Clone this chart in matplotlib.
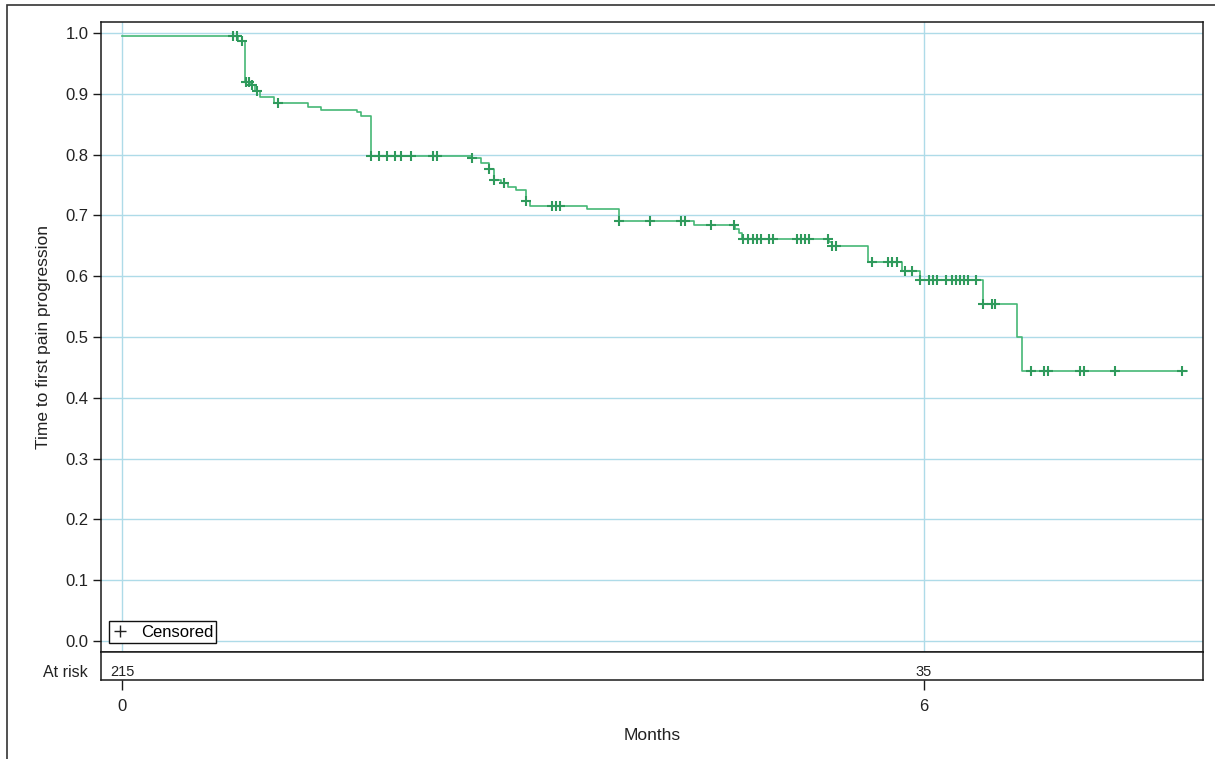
import numpy as np
import matplotlib
matplotlib.use("Agg")
import matplotlib.pyplot as plt
from matplotlib.lines import Line2D
from matplotlib.patches import Rectangle

plt.rcParams['font.family'] = ['Liberation Sans', 'DejaVu Sans']

# ---- data ----
step_times = [0.0, 0.87, 0.92, 0.965, 0.995, 1.03, 1.14, 1.39, 1.49, 1.76, 1.79, 1.86,
              2.62, 2.69, 2.75, 2.785, 2.84, 2.89, 2.95, 3.02, 3.05, 3.48, 3.72,
              4.28, 4.59, 4.62, 4.64, 5.29, 5.31, 5.58, 5.84, 5.97, 6.44, 6.70, 6.735]
step_surv = [0.995, 0.987, 0.920, 0.914, 0.905, 0.894, 0.885, 0.879, 0.874, 0.870, 0.864, 0.798,
             0.794, 0.787, 0.776, 0.758, 0.753, 0.746, 0.741, 0.723, 0.716, 0.710, 0.690,
             0.684, 0.677, 0.671, 0.661, 0.656, 0.650, 0.624, 0.609, 0.593, 0.555, 0.4995, 0.444]
end_time = 7.97

censor_times = [0.83, 0.86, 0.90, 0.925, 0.95, 0.975, 1.01, 1.165,
                1.86, 1.925, 1.985, 2.04, 2.09, 2.16, 2.325, 2.355,
                2.62, 2.75, 2.785, 2.86, 3.02, 3.22, 3.25, 3.28,
                3.72, 3.95, 4.18, 4.21, 4.41, 4.58,
                4.645, 4.685, 4.72, 4.75, 4.78, 4.84, 4.87,
                5.05, 5.08, 5.11, 5.14, 5.28, 5.315, 5.34,
                5.61, 5.73, 5.765, 5.80, 5.86, 5.91,
                5.97, 6.04, 6.07, 6.10, 6.17, 6.21, 6.24, 6.27, 6.30, 6.33, 6.39,
                6.44, 6.51, 6.53, 6.80, 6.90, 6.93, 7.17, 7.20, 7.43, 7.93]

risk_times = [0, 6]
risk_counts = [215, 35]

x_ticks = [0, 6]
y_ticks = [0.0, 0.1, 0.2, 0.3, 0.4, 0.5, 0.6, 0.7, 0.8, 0.9, 1.0]

# ---- styles ----
LINE = '#45b776'
MARK = '#2f9a5c'
GRID = '#aedbe8'
TXT = '#222222'
SPINE = '#1a1a1a'
FS = 12

W, H = 1215, 759
fig = plt.figure(figsize=(W / 100, H / 100), dpi=100)

# outer frame (top and left edges visible)
fig.patches.append(Rectangle((7 / W, -0.01), 1.02, 1 - 5 / H + 0.01, transform=fig.transFigure,
                             fill=False, edgecolor='#333333', linewidth=1.2))

L, R = 101, 1203
T, MB, RB = 22, 652, 680
ax = fig.add_axes([L / W, 1 - MB / H, (R - L) / W, (MB - T) / H])
axr = fig.add_axes([L / W, 1 - RB / H, (R - L) / W, (RB - MB) / H], sharex=ax)

xmin, xmax = -0.157, 8.09
ax.set_xlim(xmin, xmax)
ax.set_ylim(-0.0181, 1.0181)

# grid
for y in y_ticks:
    ax.axhline(y, color=GRID, lw=1.0, zorder=0)
for x in x_ticks:
    ax.axvline(x, color=GRID, lw=1.0, zorder=0)

# KM step curve
xs = list(step_times) + [end_time]
ys = list(step_surv) + [step_surv[-1]]
ax.step(xs, ys, where='post', color=LINE, lw=1.2, zorder=3)

# censor marks
st = np.array(step_times)
sv = np.array(step_surv)
ct = np.array(censor_times)
idx = np.searchsorted(st, ct, side='right') - 1
ax.plot(ct, sv[idx], linestyle='none', marker='+', markersize=7.5, markeredgewidth=1.5,
        color=MARK, zorder=4)

ax.set_yticks(y_ticks)
ax.set_yticklabels([f'{v:.1f}' for v in y_ticks])
ax.tick_params(axis='y', length=6, width=1.0, color=SPINE, labelsize=FS, labelcolor=TXT, pad=3)
ax.tick_params(axis='x', which='both', bottom=False, labelbottom=False)
ax.set_ylabel('Time to first pain progression', fontsize=12.5, color=TXT, labelpad=10)
for s in ax.spines.values():
    s.set_color(SPINE)
    s.set_linewidth(1.1)

# legend
h = Line2D([], [], linestyle='none', marker='+', markersize=8, markeredgewidth=1.0, color='#222222')
leg = ax.legend([h], ['Censored'], loc='lower left',
                bbox_to_anchor=((109 - L) / (R - L), (MB - 643) / (MB - T)),
                borderaxespad=0, frameon=True, fancybox=False, framealpha=1,
                edgecolor='#111111', fontsize=FS, handlelength=0.9, handletextpad=0.8,
                borderpad=0.2)
leg.get_frame().set_linewidth(1.0)
leg.set_zorder(5)

# at-risk panel
axr.set_ylim(0, 1)
axr.set_yticks([])
for t, n in zip(risk_times, risk_counts):
    axr.text(t, 0.28, str(n), ha='center', va='center', fontsize=10.5, color=TXT)
axr.set_xticks(x_ticks)
axr.set_xticklabels([str(v) for v in x_ticks])
axr.tick_params(axis='x', length=7, width=1.0, color=SPINE, labelsize=FS, labelcolor=TXT, pad=7)
for s in axr.spines.values():
    s.set_color(SPINE)
    s.set_linewidth(1.1)
axr.text(-0.012, 0.28, 'At risk', transform=axr.transAxes, ha='right', va='center',
         fontsize=11.5, color=TXT)
axr.set_xlabel('Months', fontsize=12.5, color=TXT, labelpad=10)

fig.savefig('out.png', dpi=100)
